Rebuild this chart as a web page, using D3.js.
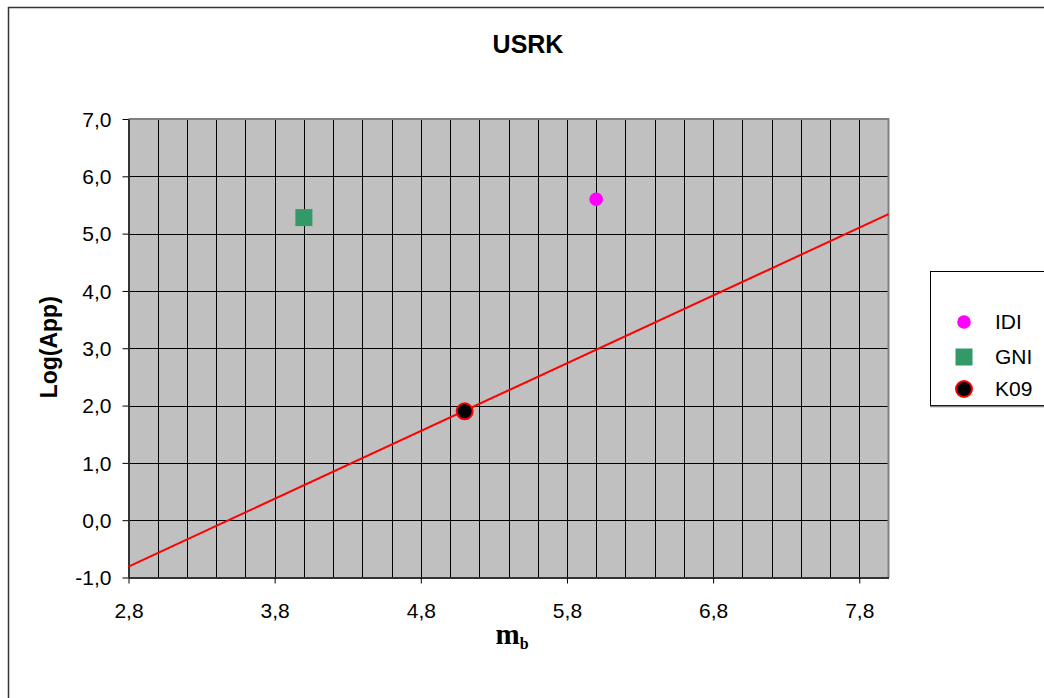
<!DOCTYPE html>
<html>
<head>
<meta charset="utf-8">
<script src="https://cdn.jsdelivr.net/npm/d3@7"></script>
<style>
  html, body { margin: 0; padding: 0; background: #fff; }
  svg { display: block; }
</style>
</head>
<body>
<svg id="chart" width="1044" height="698"></svg>
<script>
// Series
const seriesNames = ["IDI", "GNI", "K09"];
const seriesMb = [6.0, 4.0, 5.1];
const seriesLogA = [5.60, 5.28, 1.90];

// Regression line endpoints (mb, Log(App))
const lineMb = [2.8, 8.0];
const lineLogA = [-0.81, 5.34];

// Axis ticks
const xTicks = [2.8, 3.8, 4.8, 5.8, 6.8, 7.8];
const xGrid = d3.range(0, 27).map(i => 2.8 + i * 0.2);
const yTicks = [-1, 0, 1, 2, 3, 4, 5, 6, 7];

const svg = d3.select("#chart");
const W = 1044, H = 698;
const plot = { left: 128.5, top: 119, right: 888.5, bottom: 577.5 };
const fmt = v => v.toFixed(1).replace(".", ",");
const SANS = "'Liberation Sans', Arial, sans-serif";

const x = d3.scaleLinear().domain([2.8, 8.0]).range([plot.left, plot.right]);
const y = d3.scaleLinear().domain([-1, 7]).range([plot.bottom, plot.top]);

// Chart frame
svg.append("rect").attr("x", 8.5).attr("y", 7.5).attr("width", W + 20).attr("height", H + 20)
  .attr("fill", "#fff").attr("stroke", "#333").attr("stroke-width", 1.5);

// Plot background
svg.append("rect").attr("x", plot.left).attr("y", plot.top)
  .attr("width", plot.right - plot.left).attr("height", plot.bottom - plot.top)
  .attr("fill", "#c0c0c0");

// Vertical gridlines every 0.2
svg.append("g").selectAll("line").data(xGrid.slice(1, -1)).join("line")
  .attr("x1", d => Math.round(x(d)) + 0.5).attr("x2", d => Math.round(x(d)) + 0.5)
  .attr("y1", plot.top).attr("y2", plot.bottom)
  .attr("stroke", "#000").attr("stroke-width", 1);

// Horizontal gridlines every 1.0
svg.append("g").selectAll("line").data(yTicks.slice(1, -1)).join("line")
  .attr("x1", plot.left).attr("x2", plot.right)
  .attr("y1", d => Math.round(y(d)) + 0.5).attr("y2", d => Math.round(y(d)) + 0.5)
  .attr("stroke", "#000").attr("stroke-width", 1);

// Plot border (top and right in gray)
svg.append("path")
  .attr("d", `M${plot.left},${plot.top}H${plot.right}V${plot.bottom}`)
  .attr("fill", "none").attr("stroke", "#808080").attr("stroke-width", 2);

// Axes
const xAxis = svg.append("g").attr("transform", `translate(0,${plot.bottom})`)
  .call(d3.axisBottom(x).tickValues(xTicks).tickFormat(fmt).tickSizeOuter(0).tickSizeInner(6).tickPadding(20));
const yAxis = svg.append("g").attr("transform", `translate(${plot.left},0)`)
  .call(d3.axisLeft(y).tickValues(yTicks).tickFormat(fmt).tickSizeOuter(0).tickSizeInner(6).tickPadding(11));

[xAxis, yAxis].forEach(g => {
  g.attr("font-family", SANS).attr("font-size", 21);
  g.select(".domain").attr("stroke", "#333").attr("stroke-width", 2);
  g.selectAll(".tick line").attr("stroke", "#000");
  g.selectAll(".tick text").attr("fill", "#000");
});
yAxis.selectAll(".tick text").attr("dy", "0.35em");

// Regression line
svg.append("line")
  .attr("x1", x(lineMb[0])).attr("y1", y(lineLogA[0]))
  .attr("x2", x(lineMb[1])).attr("y2", y(lineLogA[1]))
  .attr("stroke", "#ff0000").attr("stroke-width", 2);

// Markers
function drawMarker(g, name, cx, cy) {
  if (name === "IDI") {
    g.append("circle").attr("cx", cx).attr("cy", cy).attr("r", 6.8).attr("fill", "#ff00ff");
  } else if (name === "GNI") {
    g.append("rect").attr("x", cx - 8.5).attr("y", cy - 8.5).attr("width", 17).attr("height", 17).attr("fill", "#339966");
  } else {
    g.append("circle").attr("cx", cx).attr("cy", cy).attr("r", 8).attr("fill", "#000")
      .attr("stroke", "#ff0000").attr("stroke-width", 2);
  }
}
const marks = svg.append("g");
seriesNames.forEach((n, i) => drawMarker(marks, n, x(seriesMb[i]), y(seriesLogA[i])));

// Title
svg.append("text").attr("x", 528).attr("y", 53).attr("text-anchor", "middle")
  .attr("font-family", SANS).attr("font-size", 25).attr("font-weight", "bold")
  .text("USRK");

// Axis titles
svg.append("text").attr("transform", `translate(57,${(plot.top + plot.bottom) / 2 - 1}) rotate(-90)`)
  .attr("text-anchor", "middle")
  .attr("font-family", SANS).attr("font-size", 23).attr("font-weight", "bold")
  .text("Log(App)");

const xt = svg.append("text").attr("x", 512).attr("y", 644).attr("text-anchor", "middle")
  .attr("font-family", "'Liberation Serif', 'Times New Roman', serif").attr("font-weight", "bold");
xt.append("tspan").attr("font-size", 29).text("m");
xt.append("tspan").attr("font-size", 16).attr("dy", 5).text("b");

// Legend
const lg = svg.append("g");
lg.append("rect").attr("x", 930.5).attr("y", 271.5).attr("width", 140).attr("height", 134)
  .attr("fill", "#fff").attr("stroke", "#000").attr("stroke-width", 1);
lg.append("line").attr("x1", 930).attr("x2", 1044).attr("y1", 406.5).attr("y2", 406.5)
  .attr("stroke", "#808080").attr("stroke-width", 1.5);
const legendY = [322, 357, 389];
seriesNames.forEach((n, i) => {
  drawMarker(lg, n, 964, legendY[i]);
  lg.append("text").attr("x", 995).attr("y", legendY[i]).attr("dy", "0.35em")
    .attr("font-family", SANS).attr("font-size", 21)
    .text(n);
});
</script>
</body>
</html>
